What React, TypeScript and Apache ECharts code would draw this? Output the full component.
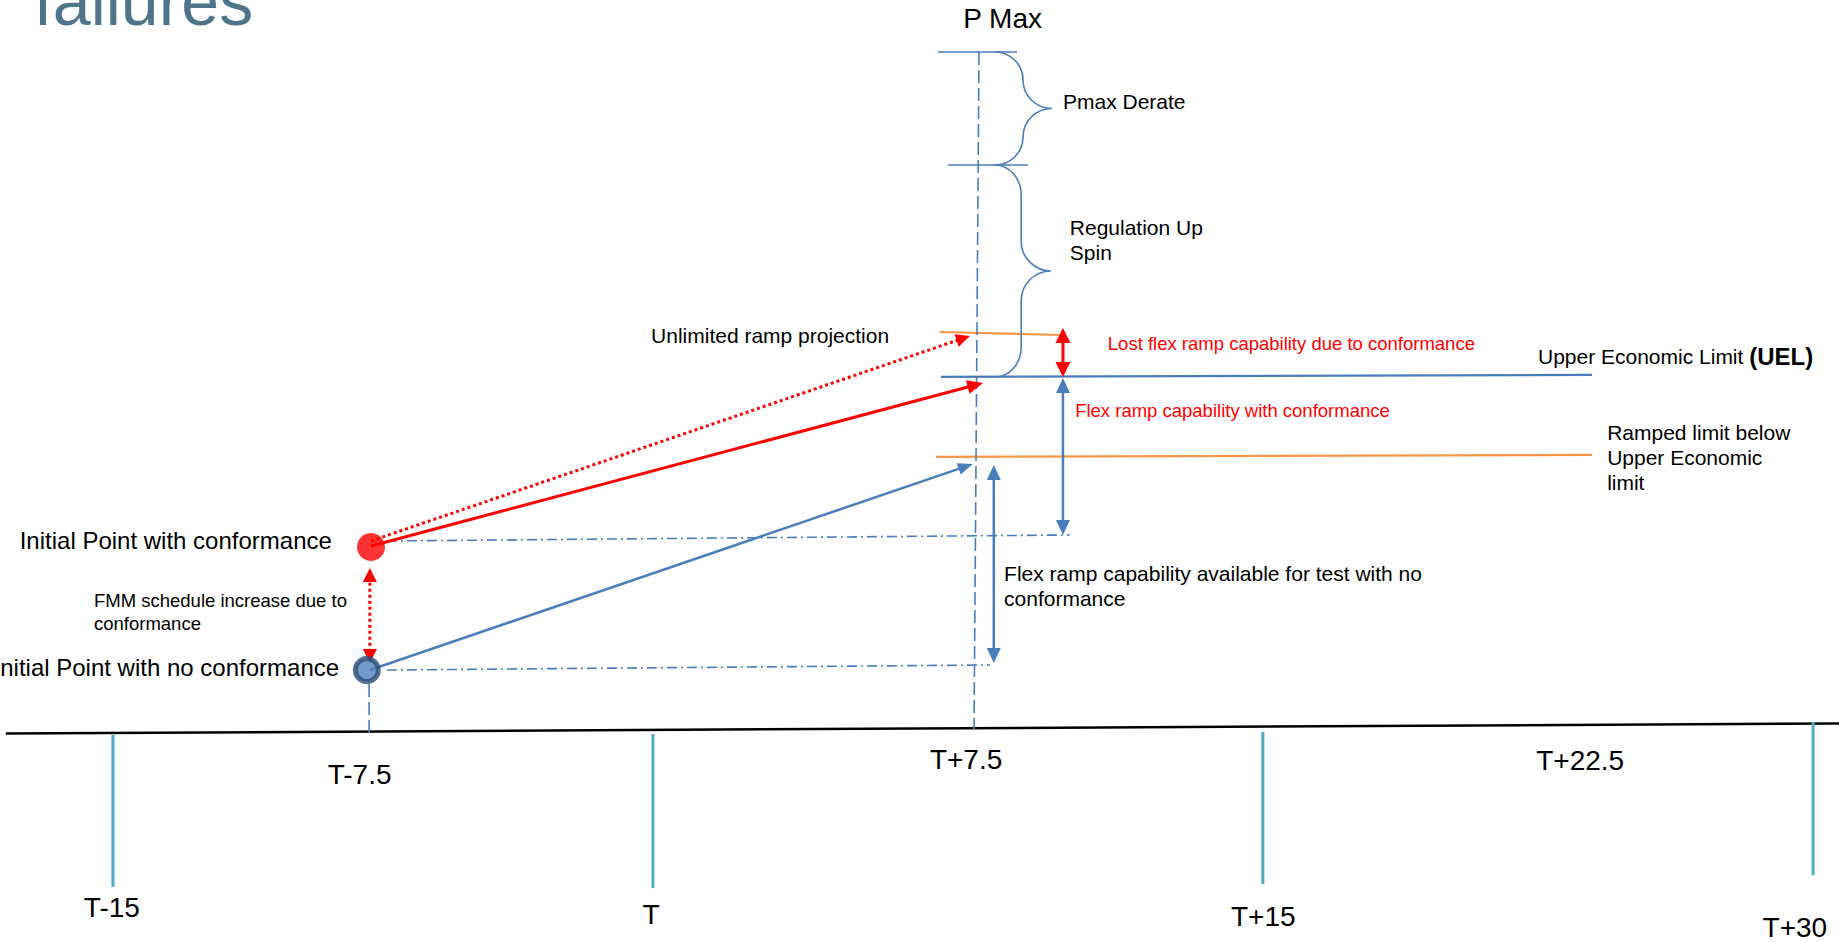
import React, { useEffect, useRef } from 'react';
import * as echarts from 'echarts';

const FONT = '"Liberation Sans", Arial, Helvetica, sans-serif';

// ---------- Axis extents: x = minutes relative to T, y = output level (% of P Max)
const minuteRange = [-17.763, 30.632];
const levelRange = [-30.5, 107.62];

// ---------- Time line and its ticks
const timelineSegment = [-17.61, 0.07, 30.63, 1.54];
const tickLabels = ['T-15', 'T', 'T+15', 'T+30'];
const tickMinutes = [-14.79, -0.58, 15.47, 29.95];
const tickTopLevels = [-0.15, 0.0, 0.3, 1.76];
const tickBottomLevels = [-22.4, -22.6, -22.0, -20.7];
const tickLabelMinutes = [-14.82, -0.63, 15.48, 29.47];
const tickLabelLevels = [-25.5, -26.5, -26.7, -28.4];
const halfTickLabels = ['T-7.5', 'T+7.5', 'T+22.5'];
const halfTickLabelMinutes = [-8.3, 7.66, 23.82];
const halfTickLabelLevels = [-6.0, -3.8, -3.9];

// ---------- Levels (segments: [minute1, level1, minute2, level2])
const pMaxBar = [6.92, 100, 9.0, 100];
const derateBar = [7.18, 83.43, 9.29, 83.43];
const uelLine = [7.0, 52.35, 24.13, 52.64];
const unlimitedLine = [6.97, 58.94, 10.18, 58.5];
const rampedLine = [6.87, 40.62, 24.13, 40.91];
const dashedVerticals = [
  [8.0, 100, 7.87, 0.73],
  [-8.05, 7.33, -8.05, 0.15],
];
const dashDotLines = [
  [-7.58, 28.3, 10.39, 29.18],
  [-7.58, 9.38, 8.29, 10.12],
];

// ---------- Arrows
const redSolidArrow = [-8.0, 27.57, 8.11, 51.47];
const redDottedArrow = [-8.0, 28.3, 7.76, 58.36];
const blueRampArrow = [-8.03, 9.38, 7.84, 39.59];
const lostFlexArrow = [10.21, 52.35, 10.21, 59.53];
const fmmIncreaseArrow = [-8.03, 10.41, -8.03, 24.34];
const flexWithConformanceArrow = [10.21, 29.18, 10.21, 52.2];
const flexNoConformanceArrow = [8.39, 10.41, 8.39, 39.44];

// ---------- Braces: [top level, bottom level, left minute, spine minute, tip minute]
const pmaxDerateBrace = [100, 83.43, 8.42, 9.16, 9.92];
const regulationBrace = [83.43, 52.35, 8.42, 9.11, 9.89];

// ---------- Initial points [minute, level]
const conformancePoint = [-8.0, 27.42];
const noConformancePoint = [-8.11, 9.38];

// ---------- Annotations
const titleText = 'failures';
const titlePos = [-16.87, 107.5];
const pMaxText = 'P Max';
const pMaxPos = [8.62, 104.98];
const blackNotes = [
  'Pmax Derate',
  'Regulation Up\nSpin',
  'Unlimited ramp projection',
  'Upper Economic Limit {b|(UEL)}',
  'Ramped limit below\nUpper Economic\nlimit',
  'Flex ramp capability available for test with no\nconformance',
];
const blackNoteMinutes = [10.21, 10.39, -0.63, 22.71, 24.53, 8.66];
const blackNoteLevels = [92.8, 72.4, 58.5, 55.3, 40.6, 21.7];
const pointNotes = ['Initial Point with conformance', 'Initial Point with no conformance'];
const pointNoteMinutes = [-9.03, -8.84];
const pointNoteLevels = [28.4, 9.7];
const smallNotes = ['FMM schedule increase due to\nconformance'];
const smallNoteMinutes = [-15.29];
const smallNoteLevels = [17.9];
const redNotes = ['Lost flex ramp capability due to conformance', 'Flex ramp capability with conformance'];
const redNoteMinutes = [11.39, 10.53];
const redNoteLevels = [57.3, 47.4];

// ---------- colours
const BLUE = '#4A7EBB';
const RED = '#FF0000';
const ORANGE = '#F79646';
const TEAL = '#4BACC6';

type Api = any;

function segmentSeries(name: string, data: number[][], stroke: string, lineWidth: number, lineDash?: number[] | null, z = 2) {
  return {
    name,
    type: 'custom',
    coordinateSystem: 'cartesian2d',
    silent: true,
    z,
    data,
    renderItem: (_p: any, api: Api) => {
      const a = api.coord([api.value(0), api.value(1)]);
      const b = api.coord([api.value(2), api.value(3)]);
      return {
        type: 'line',
        shape: { x1: a[0], y1: a[1], x2: b[0], y2: b[1] },
        style: { stroke, lineWidth, lineDash: lineDash || null, fill: null, lineCap: 'butt' },
      };
    },
  };
}

function arrowSeries(
  name: string,
  data: number[][],
  stroke: string,
  lineWidth: number,
  lineDash: number[] | null,
  headLength: number,
  headWidth: number,
  both: boolean,
) {
  return {
    name,
    type: 'custom',
    coordinateSystem: 'cartesian2d',
    silent: true,
    z: 3,
    data,
    renderItem: (_p: any, api: Api) => {
      const a = api.coord([api.value(0), api.value(1)]);
      const b = api.coord([api.value(2), api.value(3)]);
      const dx = b[0] - a[0];
      const dy = b[1] - a[1];
      const len = Math.hypot(dx, dy) || 1;
      const ux = dx / len;
      const uy = dy / len;
      const nx = -uy;
      const ny = ux;
      const head = (tip: number[], sx: number, sy: number) => ({
        type: 'polygon',
        shape: {
          points: [
            [tip[0], tip[1]],
            [tip[0] - sx * headLength + nx * headWidth / 2, tip[1] - sy * headLength + ny * headWidth / 2],
            [tip[0] - sx * headLength - nx * headWidth / 2, tip[1] - sy * headLength - ny * headWidth / 2],
          ],
        },
        style: { fill: stroke, stroke: null },
      });
      const s = both ? [a[0] + ux * headLength * 0.8, a[1] + uy * headLength * 0.8] : a;
      const e = [b[0] - ux * headLength * 0.8, b[1] - uy * headLength * 0.8];
      const children: any[] = [
        {
          type: 'line',
          shape: { x1: s[0], y1: s[1], x2: e[0], y2: e[1] },
          style: { stroke, lineWidth, lineDash: lineDash || null, fill: null },
        },
        head(b, ux, uy),
      ];
      if (both) children.push(head(a, -ux, -uy));
      return { type: 'group', children };
    },
  };
}

function braceSeries(name: string, data: number[][]) {
  return {
    name,
    type: 'custom',
    coordinateSystem: 'cartesian2d',
    silent: true,
    z: 2,
    data,
    renderItem: (_p: any, api: Api) => {
      const top = api.coord([api.value(2), api.value(0)]);
      const bot = api.coord([api.value(2), api.value(1)]);
      const xl = top[0];
      const xs = api.coord([api.value(3), api.value(0)])[0];
      const xt = api.coord([api.value(4), api.value(0)])[0];
      const yt = top[1];
      const yb = bot[1];
      const ym = (yt + yb) / 2;
      const r = Math.min(30, (yb - yt) / 4);
      const k = 0.5523;
      const a = xs - xl;
      const a2 = xt - xs;
      const d = [
        `M ${xl} ${yt}`,
        `C ${xl + k * a} ${yt} ${xs} ${yt + r - k * r} ${xs} ${yt + r}`,
        `L ${xs} ${ym - r}`,
        `C ${xs} ${ym - r + k * r} ${xt - k * a2} ${ym} ${xt} ${ym}`,
        `C ${xt - k * a2} ${ym} ${xs} ${ym + r - k * r} ${xs} ${ym + r}`,
        `L ${xs} ${yb - r}`,
        `C ${xs} ${yb - r + k * r} ${xl + k * a} ${yb} ${xl} ${yb}`,
      ].join(' ');
      return {
        type: 'path',
        shape: { pathData: d },
        style: { fill: null, stroke: BLUE, lineWidth: 1.6 },
      };
    },
  };
}

function textSeries(
  name: string,
  texts: string[],
  minutes: number[],
  levels: number[],
  style: { size: number; color: string; align: string; lineHeight?: number; weight?: string; richSize?: number },
) {
  return {
    name,
    type: 'custom',
    coordinateSystem: 'cartesian2d',
    silent: true,
    z: 6,
    data: minutes.map((m, i) => [m, levels[i]]),
    renderItem: (p: any, api: Api) => {
      const pt = api.coord([api.value(0), api.value(1)]);
      return {
        type: 'text',
        x: pt[0],
        y: pt[1],
        style: {
          text: texts[p.dataIndex],
          fill: style.color,
          fontSize: style.size,
          fontFamily: FONT,
          fontWeight: style.weight || 'normal',
          align: style.align,
          verticalAlign: 'middle',
          lineHeight: style.lineHeight || style.size * 1.2,
          rich: {
            b: { fontWeight: 'bold', fontSize: style.richSize || style.size, fontFamily: FONT, fill: style.color },
          },
        },
      };
    },
  };
}

export default function App() {
  const ref = useRef<HTMLDivElement>(null);

  useEffect(() => {
    if (!ref.current) return;
    const chart = echarts.init(ref.current, null, { renderer: 'svg' });

    const tickSegments = tickMinutes.map((m, i) => [m, tickTopLevels[i], m, tickBottomLevels[i]]);

    chart.setOption({
      animation: false,
      backgroundColor: '#ffffff',
      grid: { left: 0, right: 0, top: 0, bottom: 0, containLabel: false },
      xAxis: { type: 'value', min: minuteRange[0], max: minuteRange[1], show: false },
      yAxis: { type: 'value', min: levelRange[0], max: levelRange[1], show: false },
      series: [
        segmentSeries('timeline', [timelineSegment], '#000000', 2.5),
        segmentSeries('ticks', tickSegments, TEAL, 3),
        segmentSeries('P Max bars', [pMaxBar, derateBar], BLUE, 1.6),
        segmentSeries('UEL', [uelLine], BLUE, 2.2),
        segmentSeries('orange limits', [unlimitedLine, rampedLine], ORANGE, 2.2),
        segmentSeries('dashed verticals', dashedVerticals, BLUE, 1.6, [13, 5]),
        segmentSeries('dash-dot', dashDotLines, BLUE, 1.6, [10, 4, 2, 4]),
        braceSeries('braces', [pmaxDerateBrace, regulationBrace]),
        arrowSeries('red ramp', [redSolidArrow], RED, 3, null, 16, 14, false),
        arrowSeries('unlimited ramp', [redDottedArrow], RED, 3, [3, 3], 14, 13, false),
        arrowSeries('blue ramp', [blueRampArrow], BLUE, 2.5, null, 15, 12, false),
        arrowSeries('lost flex', [lostFlexArrow], RED, 3, null, 15, 15, true),
        arrowSeries('fmm increase', [fmmIncreaseArrow], RED, 3, [3, 3], 14, 14, true),
        arrowSeries('flex blue', [flexWithConformanceArrow, flexNoConformanceArrow], BLUE, 2.5, null, 15, 14, true),
        {
          name: 'conformance point',
          type: 'scatter',
          silent: true,
          z: 5,
          symbol: 'circle',
          symbolSize: 28,
          itemStyle: { color: RED, borderWidth: 0 },
          data: [conformancePoint],
        },
        {
          name: 'no conformance point',
          type: 'scatter',
          silent: true,
          z: 5,
          symbol: 'circle',
          symbolSize: 23,
          itemStyle: { color: '#4F81BD', borderColor: '#2B4C78', borderWidth: 5 },
          data: [noConformancePoint],
        },
        textSeries('title', [titleText], [titlePos[0]], [titlePos[1]], { size: 68, color: '#4E758B', align: 'left' }),
        textSeries('pmax', [pMaxText], [pMaxPos[0]], [pMaxPos[1]], { size: 28, color: '#000000', align: 'center' }),
        textSeries('tick labels', tickLabels, tickLabelMinutes, tickLabelLevels, { size: 28, color: '#000000', align: 'center' }),
        textSeries('half tick labels', halfTickLabels, halfTickLabelMinutes, halfTickLabelLevels, { size: 28, color: '#000000', align: 'center' }),
        textSeries('notes', blackNotes, blackNoteMinutes, blackNoteLevels, { size: 21, color: '#000000', align: 'left', lineHeight: 25, richSize: 24 }),
        textSeries('point notes', pointNotes, pointNoteMinutes, pointNoteLevels, { size: 24, color: '#000000', align: 'right' }),
        textSeries('small notes', smallNotes, smallNoteMinutes, smallNoteLevels, { size: 18.5, color: '#000000', align: 'left', lineHeight: 23 }),
        textSeries('red notes', redNotes, redNoteMinutes, redNoteLevels, { size: 18.5, color: RED, align: 'left' }),
      ],
    });

    return () => chart.dispose();
  }, []);

  return (
    <div
      ref={ref}
      style={{ position: 'absolute', left: 0, top: 0, width: 1839, height: 942, background: '#fff' }}
    />
  );
}
